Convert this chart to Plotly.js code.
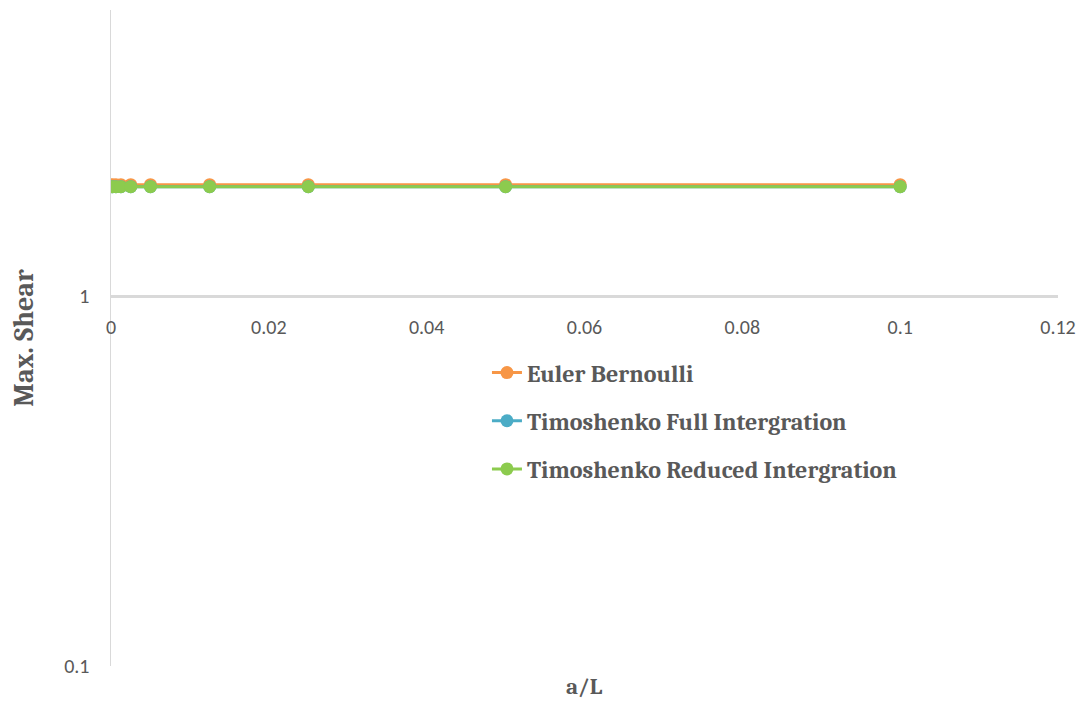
<!DOCTYPE html>
<html>
<head>
<meta charset="utf-8">
<script src="https://cdn.plot.ly/plotly-3.0.1.min.js"></script>
<style>html,body{margin:0;padding:0;background:#fff;}#chart{width:1083px;height:702px;}</style>
</head>
<body>
<div id="chart"></div>
<script>
const aL = [0.0002, 0.000625, 0.00125, 0.0025, 0.005, 0.0125, 0.025, 0.05, 0.1];
const eulerBernoulli = [2.0, 2.0, 2.0, 2.0, 2.0, 2.0, 2.0, 2.0, 2.0];
const timoFull = [1.975, 1.975, 1.975, 1.975, 1.975, 1.975, 1.975, 1.975, 1.975];
const timoReduced = [1.975, 1.975, 1.975, 1.975, 1.975, 1.975, 1.975, 1.975, 1.975];
const seriesNames = ['Euler Bernoulli', 'Timoshenko Full Intergration', 'Timoshenko Reduced Intergration'];
const colors = ['#F79646', '#4BACC6', '#8CCB4E'];
const xTicks = [0, 0.02, 0.04, 0.06, 0.08, 0.1, 0.12];
const xTickText = ['0', '0.02', '0.04', '0.06', '0.08', '0.1', '0.12'];
const yTicks = [0.1, 1];
const yTickText = ['0.1', '1'];

const serif = 'Cambria, "DejaVu Serif", "Liberation Serif", serif';
const sans = 'Calibri, Carlito, "Liberation Sans", Arial, sans-serif';

const series = [eulerBernoulli, timoFull, timoReduced];
const traces = series.map((ys, i) => ({
  x: aL, y: ys, type: 'scatter', mode: 'lines+markers', name: seriesNames[i],
  legendgroup: 'g' + i,
  line: {color: colors[i], width: 3},
  marker: {color: colors[i], size: 13}
}));

const layout = {
  width: 1083, height: 702,
  margin: {l: 111, r: 25, t: 10, b: 36},
  paper_bgcolor: '#ffffff', plot_bgcolor: '#ffffff',
  showlegend: true,
  legend: {x: 0.397, y: 0.481, xanchor: 'left', yanchor: 'top', traceorder: 'grouped', tracegroupgap: 14,
    font: {family: serif, size: 24, color: '#595959', weight: 'bold'}, bgcolor: 'rgba(0,0,0,0)'},
  xaxis: {
    range: [0, 0.12], tickvals: xTicks, ticktext: xTickText, anchor: 'free', position: 0.564,
    showline: true, linecolor: '#D9D9D9', linewidth: 1.5, showgrid: false, zeroline: false,
    ticks: '', ticklabelstandoff: 12, tickfont: {family: sans, size: 20, color: '#595959'}
  },
  yaxis: {
    type: 'log', range: [-1, 0.773], tickvals: yTicks, ticktext: yTickText,
    showline: true, linecolor: '#D9D9D9', linewidth: 1.5, showgrid: true, gridcolor: '#D9D9D9', gridwidth: 1.5,
    zeroline: false, ticks: '', ticklabelstandoff: 16,
    tickfont: {family: sans, size: 20, color: '#595959'},
    title: {text: 'Max. Shear', standoff: 22, font: {family: serif, size: 28, color: '#595959', weight: 'bold'}}
  },
  annotations: [{
    text: 'a/L', xref: 'paper', yref: 'paper', x: 0.5, y: -0.031, xanchor: 'center', yanchor: 'middle',
    showarrow: false, font: {family: serif, size: 23, color: '#595959', weight: 'bold'}
  }]
};

Plotly.newPlot('chart', traces, layout, {displayModeBar: false, staticPlot: true});
</script>
</body>
</html>
